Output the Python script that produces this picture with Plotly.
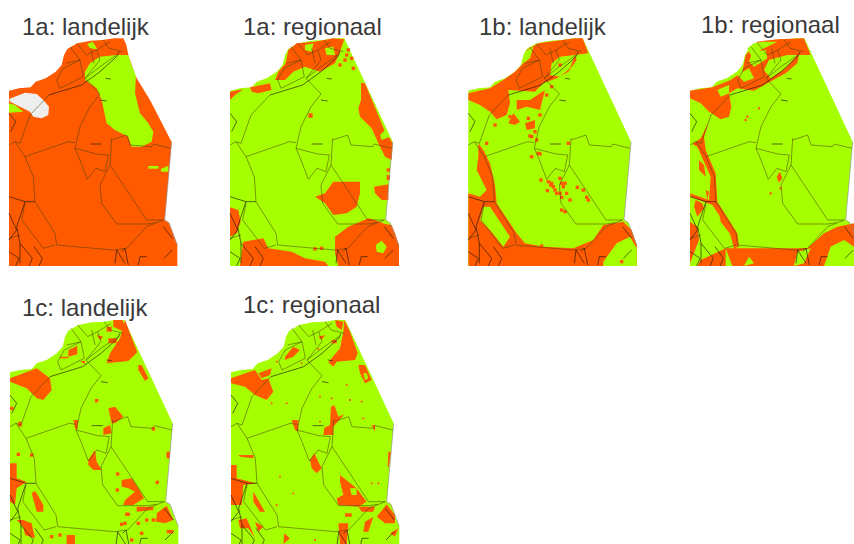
import plotly.graph_objects as go

TITLES = ["1a: landelijk", "1a: regionaal", "1b: landelijk", "1b: regionaal", "1c: landelijk", "1c: regionaal"]
TITLE_X = [22, 243, 479, 701, 22, 243]
TITLE_Y = [26, 26, 26, 24, 307, 304]
CROP_X = [0, 225, 460, 654, 0, 225]
CROP_Y = [0, 0, 0, 0, 275, 275]
MAP_X = [27, 15, 25, 108, 30, 18]
MAP_Y = [115, 115, 115, 115, 135, 135]
GREEN = "#a6ff00"
ORANGE = "#ff5a00"

OUTLINE = [(0,157),(30,150),(65,147),(80,130),(110,120),(140,100),(158,80),(165,50),(175,32),(205,15),(245,7),(280,5),(315,0),(343,0),
           (488,310),(467,545),(480,553),(505,620),(505,683),(0,683)]

P1_BASE = ORANGE
P1_OVER = [
    (GREEN, [(255,215),(270,190),(300,170),(350,165),(385,165),(395,195),(408,225),(405,280),(420,340),(445,370),(460,395),(455,425),(425,440),(395,440),(385,410),(345,390),(320,370),(305,300),(290,265),(255,240)]),
    (GREEN, [(262,132),(278,125),(292,148),(270,145)]),
    (GREEN, [(27,310),(45,315),(70,335),(27,338)]),
    (GREEN, [(445,498),(475,498),(475,506),(445,506)]),
    (GREEN, [(483,507),(505,497),(505,515),(483,515)]),
    ("#eeeeee", [(27,297),(75,278),(110,282),(130,300),(147,320),(145,345),(125,355),(100,350),(90,335),(60,320),(30,305)]),
    ("#ffffff", [(370,112),(520,420),(513,422),(450,300),(410,235),(385,165),(378,128)]),
]
P2_ORANGE = [
    [(182,190),(190,150),(215,130),(270,125),(325,115),(358,118),(345,155),(330,190),(285,215),(240,200),(205,215),(180,240),(150,240),(160,215)],
    [(75,262),(135,250),(140,270),(100,280),(80,275)],
    [(15,275),(55,268),(30,285),(15,300)],
    [(408,248),(420,250),(478,390),(503,430),(500,480),(480,470),(460,430),(440,385),(405,350),(400,325),(408,300)],
    [(270,590),(300,580),(325,545),(405,545),(405,580),(395,620),(365,640),(325,645),(300,610)],
    [(447,560),(490,553),(490,600),(470,600),(450,580)],
    [(485,525),(495,525),(495,540),(485,540)],
    [(330,710),(370,680),(430,655),(450,660),(480,672),(500,675),(510,700),(522,735),(522,798),(340,798),(330,760)],
    [(55,725),(115,715),(130,745),(200,755),(240,775),(300,785),(310,798),(45,798),(50,760)],
    [(15,622),(40,630),(47,665),(35,700),(15,710)],
    [(250,340),(263,340),(263,353),(250,353)],
]
P2_GREEN = [
    [(300,145),(325,140),(330,165),(305,165)],
    [(465,405),(480,390),(495,410),(470,420)],
    [(452,735),(470,722),(485,740),(475,760),(455,755)],
    [(240,135),(265,130),(260,155),(240,150)],
]
P2_CELLS = [(370,150),(385,205),(365,165),(380,175),(270,747),(290,745),(490,510),(345,195),(360,180)]
P3_ORANGE = [
    [(25,280),(90,265),(130,240),(165,215),(190,190),(200,150),(235,130),(275,125),(345,115),(368,115),(385,160),(345,165),(350,180),(325,215),(290,235),(250,250),(225,275),(145,270),(150,310),(140,345),(110,358),(90,335),(60,315),(25,300)],
    [(170,300),(210,300),(255,270),(240,330),(200,320),(170,330)],
    [(145,370),(160,340),(180,365),(165,375)],
    [(195,370),(225,360),(225,385),(200,390)],
    [(55,430),(70,450),(90,490),(105,555),(110,610),(170,700),(195,730),(250,740),(340,745),(400,720),(430,675),(490,665),(515,690),(530,735),(530,798),(25,798),(25,580),(60,590),(80,570),(50,510),(55,470)],
]
P3_GREEN = [
    [(275,190),(300,170),(345,165),(330,205),(300,230),(270,225)],
    [(195,155),(220,140),(210,175),(190,190)],
    [(430,798),(430,785),(470,730),(510,710),(530,745),(530,798)],
    [(70,620),(90,620),(130,680),(150,710),(130,740),(90,690),(60,660)],
    [(25,440),(50,440),(50,470),(25,570)],
]
P3_CELLS = [(243,540),(265,545),(272,555),(305,550),(315,550),(300,535),(262,572),(285,570),(300,580),(320,580),(305,592),(330,600),(380,592),(385,600),(370,570),(352,562),(305,630),(315,635),(235,460),(215,470),(325,430),(80,430),(105,375),(135,268),(120,283),(220,225),(300,195),(215,410),(230,420),(225,395),(210,408),(240,462),(280,560),(290,580),(275,550),(310,560),(485,785),(245,738),(160,355),(185,305),(260,285),(275,260),(240,345),(150,350),(205,355)]
P4_ORANGE = [
    [(108,272),(175,262),(230,240),(265,215),(275,165),(310,125),(370,118),(430,115),(450,115),(470,165),(435,165),(430,190),(395,220),(340,250),(300,272),(250,265),(225,280),(232,320),(225,350),(200,358),(165,335),(140,310),(108,295)],
    [(165,365),(150,410),(155,450),(185,520),(190,605),(250,700),(255,740),(240,745),(225,690),(175,615),(110,590),(108,580),(165,600),(170,530),(130,440),(115,432),(140,415)],
    [(135,480),(150,495),(155,530),(135,510)],
    [(155,570),(165,575),(160,600)],
    [(108,665),(130,680),(135,720),(108,790)],
    [(195,640),(240,700),(235,710),(200,665)],
    [(125,600),(145,610),(150,625),(130,650),(120,620)],
    [(215,745),(460,745),(510,700),(550,680),(600,670),(600,798),(235,798)],
    [(140,780),(215,745),(215,798),(130,798)],
    [(368,530),(378,515),(385,535),(375,548)],
]
P4_GREEN = [
    [(295,155),(335,150),(340,175),(300,200),(285,185)],
    [(345,180),(400,165),(430,165),(395,205),(350,235),(330,210)],
    [(250,225),(285,205),(300,235),(270,245)],
    [(190,270),(225,255),(225,280),(200,290)],
    [(280,145),(300,130),(330,125),(370,125),(340,140),(290,165)],
    [(420,798),(430,755),(470,745),(450,790)],
    [(510,798),(530,740),(570,720),(600,740),(600,798)],
    [(270,798),(285,770),(300,790)],
]
P4_CELLS = [(380,565),(315,325),(280,350),(275,360),(350,580),(295,250)]
P5_ORANGE = [
    [(30,310),(85,290),(110,280),(150,310),(155,345),(130,375),(110,370),(80,340),(30,320)],
    [(330,235),(360,190),(375,135),(395,190),(412,232),(385,258),(340,262),(320,265)],
    [(340,135),(368,135),(380,175),(350,160),(340,155)],
    [(205,225),(232,212),(232,238),(205,245)],
    [(180,245),(205,245),(205,250),(180,250)],
    [(290,180),(310,185),(300,195)],
    [(325,190),(350,190),(350,205),(325,205)],
    [(320,155),(335,155),(335,170),(320,170)],
    [(415,270),(425,270),(445,310),(435,318),(415,285)],
    [(325,400),(345,395),(370,425),(345,445),(335,445)],
    [(310,460),(330,450),(335,475),(310,480)],
    [(220,435),(235,435),(232,465),(225,460)],
    [(265,555),(285,525),(290,560),(305,585),(280,585),(265,570)],
    [(365,615),(395,610),(415,640),(432,670),(400,690),(370,690),(375,675),(405,650),(385,640),(365,635)],
    [(30,565),(50,565),(50,610),(80,620),(50,640),(45,690),(30,680)],
    [(95,655),(110,655),(130,690),(130,710),(110,710)],
    [(50,735),(70,735),(95,745),(105,790),(75,780),(70,755)],
    [(470,715),(500,692),(520,735),(495,745),(470,740)],
    [(410,695),(460,695),(460,705),(410,710)],
    [(240,258),(255,258),(255,268)],
    [(200,780),(225,780),(225,807),(200,807)],
]
P5_CELLS = [(290,377),(60,445),(55,538),(95,540),(505,540),(505,535),(505,545),(353,597),(352,645),(472,622),(103,655),(375,745),(380,718),(385,718),(365,748),(440,735),(460,735),(472,735),(425,775),(155,785),(180,780),(460,462),(35,400),(415,745),(395,795),(505,770),(515,770),(60,450)]
P6_ORANGE = [
    [(18,310),(90,285),(110,315),(130,310),(145,350),(125,375),(90,360),(60,335),(18,325)],
    [(100,295),(140,280),(135,300),(110,310)],
    [(310,262),(345,220),(355,170),(358,135),(375,170),(398,235),(390,255),(335,260),(325,275)],
    [(330,135),(355,140),(350,165),(335,155)],
    [(180,245),(205,215),(225,225),(205,245),(180,255)],
    [(280,185),(300,180),(290,195)],
    [(320,195),(335,195),(335,205),(320,205)],
    [(400,270),(420,270),(440,315),(420,325),(405,295)],
    [(318,395),(328,390),(340,425),(358,418),(325,455),(325,480),(295,480),(298,458),(315,450)],
    [(200,435),(220,435),(220,470),(210,465)],
    [(255,555),(268,535),(285,570),(290,580),(275,595),(260,580)],
    [(345,600),(395,640),(425,680),(400,695),(340,690),(335,670),(355,660),(345,620)],
    [(18,570),(35,570),(35,610),(95,625),(55,630),(50,690),(18,690)],
    [(85,650),(120,710),(105,710),(85,680)],
    [(40,540),(85,540),(85,550),(45,545)],
    [(490,530),(498,530),(492,575),(488,575)],
    [(40,735),(65,730),(90,790),(70,760),(45,760)],
    [(90,740),(115,755),(100,770)],
    [(455,725),(485,688),(510,720),(510,745),(480,745)],
    [(400,695),(450,695),(445,710),(410,710)],
    [(360,715),(380,715),(380,725),(360,725)],
    [(420,740),(445,725),(430,770),(415,770)],
    [(340,745),(370,745),(365,807),(345,807)],
    [(495,775),(520,760),(510,785)],
    [(440,450),(450,450),(450,470)],
    [(178,775),(195,790),(175,807)],
]
P6_GREEN = [
    [(415,295),(425,295),(430,310),(420,315)],
    [(375,640),(395,640),(395,660),(380,660)],
]
P6_CELLS = [(365,330),(320,370),(285,365),(185,385),(140,385),(410,380),(375,375),(460,625),(165,605),(120,340),(230,265),(280,222),(155,260),(415,430),(285,440),(440,625),(205,655),(155,690),(180,790),(270,795)]

NET_THIN = [
    [(273,167),(243,205),(213,265),(198,330),(213,365),(235,423),(261,390),(288,400),(298,350),(263,347),(198,330)],
    [(198,313),(178,310),(48,355),(18,310),(0,320)],
    [(48,355),(73,415),(78,490),(138,585),(143,620),(203,625),(313,635),(353,630),(413,565),(463,545)],
    [(308,305),(353,290),(363,320),(428,325),(433,317),(486,330)],
    [(308,300),(303,380),(413,545),(463,545)],
    [(303,380),(273,440),(278,495),(323,557),(413,557),(440,553)],
    [(63,230),(33,315),(18,310)],
    [(120,170),(63,230)],
    [(143,125),(163,90),(213,65),(183,25)],
    [(213,65),(223,115),(153,150),(143,125)],
    [(203,15),(233,50),(263,35),(303,10)],
    [(263,35),(273,65),(228,120),(273,167)],
    [(48,495),(38,545),(103,630),(138,620)],
    [(33,590),(0,600)],
    [(228,120),(273,85),(323,50)],
    [(170,75),(213,65)],
    [(245,30),(255,75)],
    [(283,5),(300,30),(340,40)],
]
NET_DARK = [
    [(120,170),(178,153),(218,140),(273,100),(323,55),(330,40)],
    [(0,475),(48,490),(78,490)],
    [(48,490),(23,565),(33,615),(33,675)],
    [(0,525),(23,575),(0,605)],
    [(33,615),(70,660),(60,683)],
    [(318,675),(323,635),(348,675)],
    [(338,640),(348,630),(358,680)],
    [(388,680),(393,655),(413,655)],
    [(463,565),(490,600)],
    [(0,225),(20,250),(5,280)],
    [(273,185),(293,188)],
    [(245,317),(278,317)],
    [(290,120),(305,122)],
    [(75,625),(100,660),(90,683)],
    [(0,640),(30,660),(20,683)],
    [(465,660),(490,635)],
]
EDGE_GREY = [[(488,310),(467,545),(480,553),(505,620)]]

def flat(polys, mx, my, cx, cy, local):
    xs, ys = [], []
    for p in polys:
        for u, v in p:
            zx, zy = (u + mx, v + my) if local else (u, v)
            xs.append(cx + zx / 3)
            ys.append(cy + zy / 3)
        xs.append(None)
        ys.append(None)
    return xs, ys

fig = go.Figure()

def fill(polys, color, i, local=False):
    x, y = flat(polys, MAP_X[i], MAP_Y[i], CROP_X[i], CROP_Y[i], local)
    fig.add_trace(go.Scatter(x=x, y=y, mode="lines", fill="toself", fillcolor=color,
                             line=dict(width=0, color=color), hoverinfo="skip", showlegend=False))

ORANGE_LAYERS = [None, P2_ORANGE, P3_ORANGE, P4_ORANGE, P5_ORANGE, P6_ORANGE]
GREEN_LAYERS = [None, P2_GREEN, P3_GREEN, P4_GREEN, [], P6_GREEN]
CELL_LAYERS = [None, P2_CELLS, P3_CELLS, P4_CELLS, P5_CELLS, P6_CELLS]
CELL_SIZE = [3.4, 3.4, 3.4, 2.2, 3.4, 1.8]

for i in range(6):
    fill([OUTLINE], P1_BASE if i == 0 else GREEN, i, local=True)
    if i == 0:
        for color, poly in P1_OVER:
            fill([poly], color, i)
    else:
        fill(ORANGE_LAYERS[i], ORANGE, i)
        if GREEN_LAYERS[i]:
            fill(GREEN_LAYERS[i], GREEN, i)
        cells = CELL_LAYERS[i]
        fig.add_trace(go.Scatter(x=[CROP_X[i] + c[0] / 3 for c in cells],
                                 y=[CROP_Y[i] + c[1] / 3 for c in cells],
                                 mode="markers",
                                 marker=dict(symbol="square", size=CELL_SIZE[i], color=ORANGE, line=dict(width=0)),
                                 hoverinfo="skip", showlegend=False))
    x, y = flat(NET_THIN, MAP_X[i], MAP_Y[i], CROP_X[i], CROP_Y[i], True)
    fig.add_trace(go.Scatter(x=x, y=y, mode="lines", line=dict(width=0.8, color="rgba(70,60,10,0.65)"),
                             hoverinfo="skip", showlegend=False))
    x, y = flat(NET_DARK, MAP_X[i], MAP_Y[i], CROP_X[i], CROP_Y[i], True)
    fig.add_trace(go.Scatter(x=x, y=y, mode="lines", line=dict(width=0.8, color="rgba(30,20,10,0.8)"),
                             hoverinfo="skip", showlegend=False))
    x, y = flat(EDGE_GREY, MAP_X[i], MAP_Y[i], CROP_X[i], CROP_Y[i], True)
    fig.add_trace(go.Scatter(x=x, y=y, mode="lines", line=dict(width=0.7, color="rgba(140,140,140,0.9)"),
                             hoverinfo="skip", showlegend=False))
    fig.add_annotation(x=TITLE_X[i], y=TITLE_Y[i], text=TITLES[i], showarrow=False, xanchor="left",
                       yanchor="middle", xshift=-2,
                       font=dict(family="Liberation Sans", size=24, color="#3a3a3a"))

fig.update_layout(width=854, height=544, margin=dict(l=0, r=0, t=0, b=0), plot_bgcolor="white",
                  paper_bgcolor="white", showlegend=False,
                  xaxis=dict(range=[0, 854], visible=False, fixedrange=True),
                  yaxis=dict(range=[544, 0], visible=False, fixedrange=True))
fig.write_html("out.html", config={"displayModeBar": False},
               post_script="document.body.style.margin='0';document.body.style.overflow='hidden';")
